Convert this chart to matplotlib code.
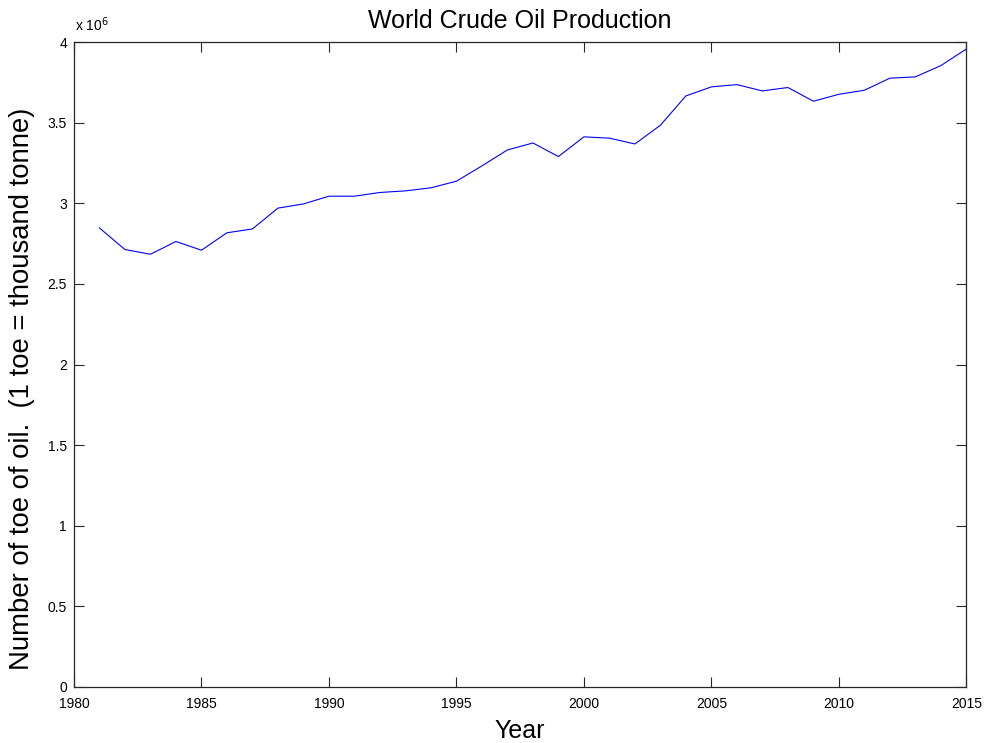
import matplotlib
matplotlib.use("Agg")
import matplotlib.pyplot as plt
from matplotlib.ticker import FuncFormatter, MultipleLocator

plt.rcParams['font.family'] = ['Liberation Sans', 'DejaVu Sans']

years = list(range(1981, 2016))
production = [
    2.847e6, 2.713e6, 2.684e6, 2.763e6, 2.709e6, 2.817e6, 2.841e6, 2.970e6,
    2.996e6, 3.044e6, 3.044e6, 3.067e6, 3.077e6, 3.096e6, 3.137e6, 3.232e6,
    3.331e6, 3.374e6, 3.290e6, 3.412e6, 3.404e6, 3.368e6, 3.484e6, 3.666e6,
    3.722e6, 3.736e6, 3.697e6, 3.718e6, 3.633e6, 3.676e6, 3.701e6, 3.776e6,
    3.784e6, 3.854e6, 3.957e6,
]

x_ticks = [1980, 1985, 1990, 1995, 2000, 2005, 2010, 2015]

fig = plt.figure(figsize=(9.85, 7.43), dpi=100)
ax = fig.add_axes([0.0751, 0.0754, 0.906, 0.868])

ax.plot(years, production, color='#0000ff', linewidth=0.8)

ax.set_xlim(1980, 2015)
ax.set_ylim(0, 4e6)
ax.set_xticks(x_ticks)
ax.yaxis.set_major_locator(MultipleLocator(0.5e6))
ax.yaxis.set_major_formatter(FuncFormatter(lambda v, p: f"{v / 1e6:g}"))

for s in ax.spines.values():
    s.set_color('#262626')
    s.set_linewidth(0.9)

ax.tick_params(direction='in', length=7, width=0.8, colors='#262626',
               labelcolor='black', labelsize=10, top=True, right=True)
ax.tick_params(axis='x', pad=7)
ax.tick_params(axis='y', pad=5)

ax.set_title('World Crude Oil Production', fontsize=18, pad=10)

ax.set_xlabel('Year', fontsize=18)
ax.xaxis.set_label_coords(0.5, -0.069)
ax.xaxis.label.set_verticalalignment('center')

ax.set_ylabel('Number of toe of oil.  (1 toe = thousand tonne)', fontsize=19.8)
ax.yaxis.set_label_coords(-0.0583, 0.462)
ax.yaxis.label.set_verticalalignment('center')

ax.text(0.001, 1.012, r'x 10$^6$', transform=ax.transAxes, fontsize=10,
        ha='left', va='bottom')

fig.savefig('out.png', dpi=100)
